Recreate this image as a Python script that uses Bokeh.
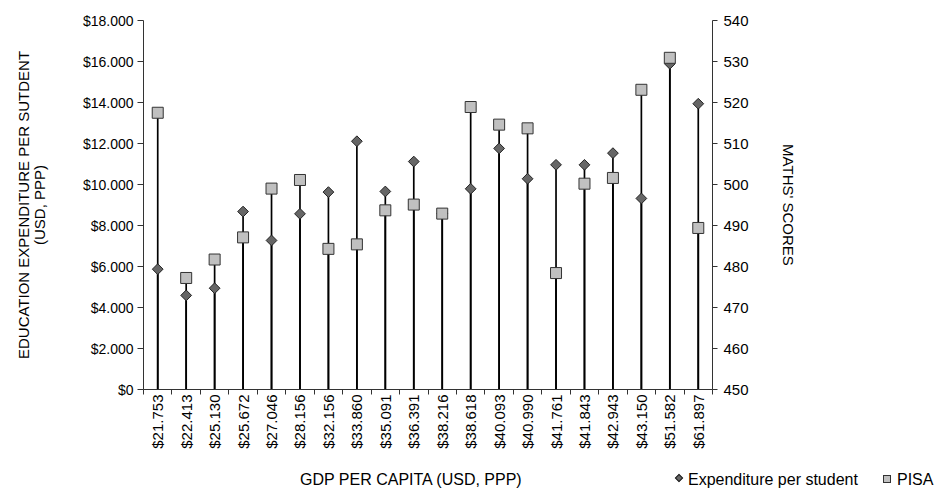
import numpy as np
from bokeh.plotting import figure
from bokeh.layouts import column
from bokeh.models import (Range1d, LinearAxis, FixedTicker, Div)
from bokeh.embed import file_html
from bokeh.resources import INLINE

# ---- data ----
gdp_labels = ["$21.753", "$22.413", "$25.130", "$25.672", "$27.046", "$28.156",
              "$32.156", "$33.860", "$35.091", "$36.391", "$38.216", "$38.618",
              "$40.093", "$40.990", "$41.761", "$41.843", "$42.943", "$43.150",
              "$51.582", "$61.897"]
expenditure = [5870, 4590, 4940, 8680, 7270, 8570, 9630, 12110, 9660, 11120,
               8590, 9790, 11760, 10280, 10960, 10960, 11530, 9320, 15890, 13940]
pisa = [517.5, 477.2, 481.7, 487.1, 499.0, 501.1, 484.3, 485.4, 493.7, 495.1,
        492.9, 518.9, 514.6, 513.7, 478.4, 500.2, 501.6, 523.1, 530.9, 489.4]
exp_ticks = [0, 2000, 4000, 6000, 8000, 10000, 12000, 14000, 16000, 18000]
exp_tick_labels = ["$0", "$2.000", "$4.000", "$6.000", "$8.000", "$10.000",
                   "$12.000", "$14.000", "$16.000", "$18.000"]
pisa_ticks = [450, 460, 470, 480, 490, 500, 510, 520, 530, 540]
series_names = ["Expenditure per student", "PISA"]
x_title = "GDP PER CAPITA (USD, PPP)"

FONT = "Liberation Sans"
FS = "15px"
n = len(gdp_labels)
xc = [i + 0.5 for i in range(n)]

W = 935
H_MAIN = 457
H_FOOT = 489 - H_MAIN

p = figure(width=W, height=H_MAIN, output_backend="svg", toolbar_location=None,
           x_range=Range1d(0, n), y_range=Range1d(0, 18000),
           min_border_left=143, min_border_right=223, min_border_top=20,
           min_border_bottom=68)
p.outline_line_color = None
p.xgrid.visible = False
p.ygrid.visible = False
p.extra_y_ranges = {"pisa": Range1d(450, 540)}

# x axis
xa = p.xaxis[0]
xa.ticker = FixedTicker(ticks=xc, minor_ticks=list(range(n + 1)))
xa.major_label_overrides = {x: l for x, l in zip(xc, gdp_labels)}
xa.major_label_orientation = np.pi / 2
xa.major_tick_out = 0
xa.major_tick_in = 0
xa.minor_tick_out = 5
xa.minor_tick_in = 0
xa.major_label_standoff = 0

# left axis
ya = p.yaxis[0]
ya.ticker = FixedTicker(ticks=exp_ticks)
ya.major_label_overrides = {t: l for t, l in zip(exp_ticks, exp_tick_labels)}
ya.axis_label = "EDUCATION EXPENDITURE PER SUTDENT\n(USD, PPP)"
ya.axis_label_standoff = 32
ya.major_tick_out = 6
ya.major_tick_in = 0
ya.minor_tick_out = 0
ya.minor_tick_in = 0
ya.major_label_standoff = 4

# right axis
ra = LinearAxis(y_range_name="pisa", ticker=FixedTicker(ticks=pisa_ticks))
ra.axis_label = "MATHS' SCORES"
ra.axis_label_standoff = 28
ra.major_tick_out = 5
ra.major_tick_in = 0
ra.minor_tick_out = 0
ra.minor_tick_in = 0
ra.major_label_standoff = 6
p.add_layout(ra, "right")

for ax in (xa, ya, ra):
    ax.major_label_text_font = FONT
    ax.major_label_text_font_size = FS
    ax.major_label_text_color = "#000000"
    ax.axis_label_text_font = FONT
    ax.axis_label_text_font_size = FS
    ax.axis_label_text_font_style = "normal"
    ax.axis_label_text_color = "#000000"
    ax.axis_line_color = "#333333"
    ax.major_tick_line_color = "#333333"
    ax.minor_tick_line_color = "#333333"
ya.major_label_text_font_size = "14px"
ya.axis_label_text_line_height = 0.95

# drop lines
p.segment(x0=xc, y0=[0] * n, x1=xc, y1=expenditure, line_color="black", line_width=1.7)
p.segment(x0=xc, y0=[450] * n, x1=xc, y1=pisa, line_color="black", line_width=1.7,
          y_range_name="pisa")

p.scatter(x=xc, y=expenditure, marker="square", angle=np.pi / 4, size=7.6,
          fill_color="#666666", line_color="#222222", line_width=1)
p.scatter(x=xc, y=pisa, marker="square", size=11, fill_color="#c0c0c0",
          line_color="#333333", line_width=1, y_range_name="pisa")

# ---- footer row: x-axis title + legend ----
txt = "position:absolute;top:15px;line-height:16px;white-space:nowrap;"
html = (
    f'<div style="position:relative;width:{W}px;height:{H_FOOT}px;'
    f"font-family:'{FONT}';font-size:16px;color:#000;\">"
    f'<span style="{txt}left:300px;">{x_title}</span>'
    '<span style="position:absolute;left:676px;top:18px;width:6px;height:6px;'
    'background:#666666;border:1px solid #222222;transform:rotate(45deg);"></span>'
    f'<span style="{txt}left:688px;">{series_names[0]}</span>'
    '<span style="position:absolute;left:883px;top:18px;width:8px;height:8px;'
    'background:#c0c0c0;border:1px solid #333333;"></span>'
    f'<span style="{txt}left:897px;">{series_names[1]}</span>'
    '</div>'
)
foot = Div(text=html, width=W, height=H_FOOT, margin=0)

layout = column(p, foot, spacing=0)
open("out.html", "w").write(file_html(layout, INLINE))
